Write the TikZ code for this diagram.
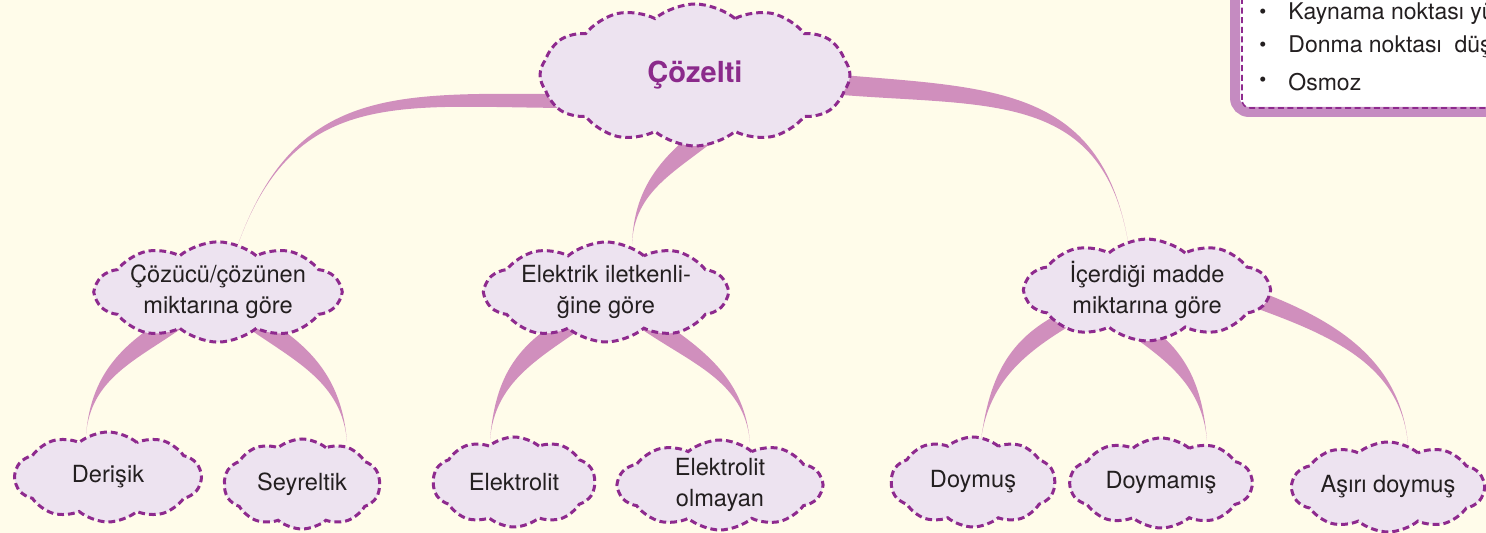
\documentclass[tikz,border=0pt]{standalone}
\usepackage{fontspec}
\setmainfont{TeX Gyre Heros}
\usepackage{tikz}
\usetikzlibrary{shapes.symbols, calc}

\definecolor{paper}{HTML}{FFFCEA}
\definecolor{cloudfill}{HTML}{EDE3F0}
\definecolor{cloudline}{HTML}{8E2A8E}
\definecolor{rootink}{HTML}{8B2A8B}
\definecolor{bandpink}{HTML}{D08FBD}
\definecolor{boxline}{HTML}{C58BC1}
\definecolor{ink}{HTML}{231F20}

\pgfdeclarelayer{paperlayer}
\pgfdeclarelayer{bandlayer}
\pgfsetlayers{paperlayer,bandlayer,main}

% tapered band: parent point 1, parent point 2, child point, out, in
\newcommand{\branch}[6][1]{\fill[bandpink] (#2) to[out=#5,in=#6,looseness=#1] (#4) to[out=#6,in=#5,looseness=#1] (#3) -- cycle;}

\begin{document}
\begin{tikzpicture}[x=0.5pt, y=0.5pt,
    cloudbox/.style={cloud, cloud puffs=10, cloud puff arc=80, cloud ignores aspect,
      draw=cloudline, fill=cloudfill, line width=1.5pt, dash pattern=on 3.4pt off 2pt,
      inner sep=0pt, align=center, text=ink, font=\fontsize{11.8}{15.5}\selectfont},
    leaf/.style={cloudbox, minimum height=45pt},
    boxtext/.style={anchor=west, inner sep=0pt, text=ink, font=\fontsize{11.5}{14}\selectfont}]
    \begin{pgfonlayer}{paperlayer}
      \fill[paper] (0,0) rectangle (1486,533);
    \end{pgfonlayer}
    \useasboundingbox (0,0) rectangle (1486,533);

    % nodes
    \node[cloudbox, cloud puffs=12, minimum width=155pt, minimum height=71pt, text=rootink,
      font=\fontsize{14.5}{17}\selectfont\bfseries] (root) at (695,458) {Çözelti};
    \node[cloudbox, minimum width=121pt, minimum height=50pt] (amount) at (218,241) {Çözücü/çözünen\\miktarına göre};
    \node[cloudbox, minimum width=121pt, minimum height=50pt] (conduct) at (606,241) {Elektrik iletkenli-\\ğine göre};
    \node[cloudbox, minimum width=122pt, minimum height=50pt] (content) at (1147,243) {İçerdiği madde\\miktarına göre};

    \node[leaf, minimum width=93pt] (derisik) at (108,56) {Derişik};
    \node[leaf, minimum width=78pt] (seyreltik) at (302,49) {Seyreltik};
    \node[leaf, minimum width=81pt] (elektrolit) at (514,51) {Elektrolit};
    \node[leaf, minimum width=102pt] (olmayan) at (720,48) {Elektrolit\\olmayan};
    \node[leaf, minimum width=82pt] (doymus) at (973,51) {Doymuş};
    \node[leaf, minimum width=91pt] (doymamis) at (1161,50) {Doymamış};
    \node[leaf, minimum width=96pt] (asiri) at (1388,46) {Aşırı doymuş};

    % bands behind the clouds
    \begin{pgfonlayer}{bandlayer}
      \branch[1.2]{$(root.center)+(-120,-19)$}{$(root.center)+(-120,-33)$}{$(amount.north)+(20,-4)$}{180}{70}
      \branch{$(root.center)+(-5,-60)$}{$(root.center)+(26,-60)$}{$(conduct.north)+(26,-4)$}{220}{88}
      \branch[1.2]{$(root.center)+(135,1)$}{$(root.center)+(135,-19)$}{$(content.north)+(-19,-4)$}{-5}{100}
      \branch{$(amount.center)+(-68,-36)$}{$(amount.center)+(-36,-36)$}{$(derisik.north)+(-22,-4)$}{215}{85}
      \branch{$(amount.center)+(30,-36)$}{$(amount.center)+(62,-36)$}{$(seyreltik.north)+(45,-4)$}{-35}{95}
      \branch{$(conduct.center)+(-58,-36)$}{$(conduct.center)+(-24,-36)$}{$(elektrolit.north)+(-24,-4)$}{215}{85}
      \branch{$(conduct.center)+(34,-36)$}{$(conduct.center)+(66,-36)$}{$(olmayan.north)+(30,-4)$}{-35}{95}
      \branch{$(content.center)+(-96,-28)$}{$(content.center)+(-64,-28)$}{$(doymus.north)+(8,-4)$}{210}{82}
      \branch{$(content.center)+(-32,-34)$}{$(content.center)+(0,-34)$}{$(doymamis.north)+(46,-4)$}{-35}{95}
      \branch{$(content.center)+(103,2)$}{$(content.center)+(103,-16)$}{$(asiri.north)+(20,-4)$}{-20}{95}
    \end{pgfonlayer}

    % note box, cut by the page edge
    \begin{scope}
      \clip (0,0) rectangle (1486,533);
      \draw[boxline, line width=5pt, fill=white, rounded corners=7pt] (1235,421) rectangle (1540,570);
      \draw[cloudline, line width=0.8pt, dash pattern=on 3pt off 1.8pt, rounded corners=4pt] (1242,425) rectangle (1540,570);
      \node[boxtext, font=\fontsize{10}{12}\selectfont] (b1) at (1259,519) {\textbullet};
      \node[boxtext] (k1) at (1288,519) {Kaynama noktası yükselmesi};
      \node[boxtext, font=\fontsize{10}{12}\selectfont] (b2) at (1259,486) {\textbullet};
      \node[boxtext] (k2) at (1288,486) {Donma noktası\ \ düşmesi};
      \node[boxtext, font=\fontsize{10}{12}\selectfont] (b3) at (1259,451) {\textbullet};
      \node[boxtext] (k3) at (1288,451) {Osmoz};
    \end{scope}
\end{tikzpicture}
\end{document}
